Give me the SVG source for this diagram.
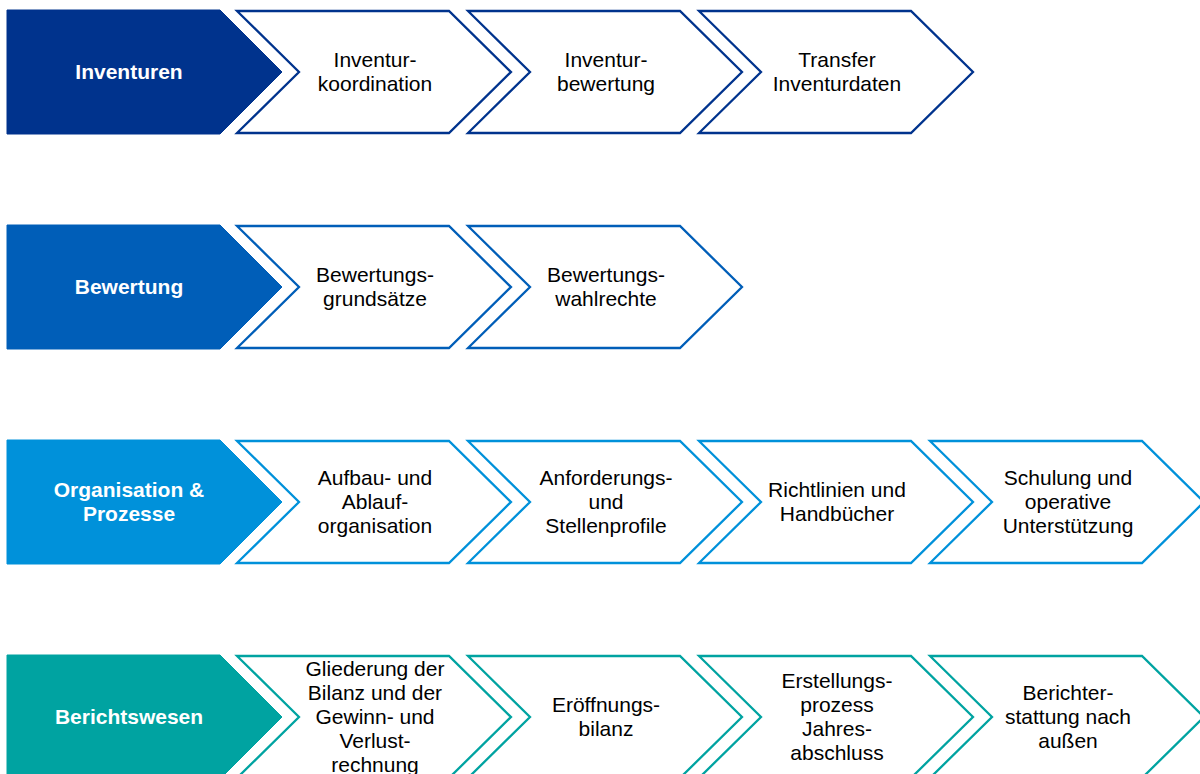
<svg xmlns="http://www.w3.org/2000/svg" xmlns:xlink="http://www.w3.org/1999/xlink" width="1200" height="774" viewBox="0 0 1200 774">
<style>
.lab{font-family:"Liberation Sans",Arial,sans-serif;font-size:21px;font-weight:bold;fill:#ffffff;text-anchor:middle}
.txt{font-family:"Liberation Sans",Arial,sans-serif;font-size:21px;fill:#000000;text-anchor:middle}
.out{fill:#ffffff;stroke-width:2.3;stroke-linejoin:miter}
.r1{fill:#00338D;stroke:#00338D}
.r2{fill:#005EB8;stroke:#005EB8}
.r3{fill:#0091DA;stroke:#0091DA}
.r4{fill:#00A3A1;stroke:#00A3A1}
.o1{stroke:#00338D}.o2{stroke:#005EB8}.o3{stroke:#0091DA}.o4{stroke:#00A3A1}
</style>
<defs>
<path id="head" d="M7,0 L220,0 L282,62 L220,124 L7,124 Z"/>
<path id="chev" d="M237,1 L449,1 L511,62 L449,123 L237,123 L299,62 Z"/>
</defs>
<rect width="1200" height="774" fill="#ffffff"/>
<g id="connectors"/>

<!-- Row 1 -->
<g id="inventuren"><use xlink:href="#head" href="#head" class="r1" y="10" stroke="none"/><text class="lab" x="129" y="79">Inventuren</text></g>
<g id="inventurkoordination"><use href="#chev" xlink:href="#chev" class="out o1" y="10"/><text class="txt"><tspan x="375" y="67">Inventur-</tspan><tspan x="375" y="91">koordination</tspan></text></g>
<g id="inventurbewertung"><use href="#chev" xlink:href="#chev" class="out o1" x="231" y="10"/><text class="txt"><tspan x="606" y="67">Inventur-</tspan><tspan x="606" y="91">bewertung</tspan></text></g>
<g id="transfer"><use href="#chev" xlink:href="#chev" class="out o1" x="462" y="10"/><text class="txt"><tspan x="837" y="67">Transfer</tspan><tspan x="837" y="91">Inventurdaten</tspan></text></g>

<!-- Row 2 -->
<g id="bewertung"><use xlink:href="#head" href="#head" class="r2" y="225" stroke="none"/><text class="lab" x="129" y="294">Bewertung</text></g>
<g id="grundsaetze"><use href="#chev" xlink:href="#chev" class="out o2" y="225"/><text class="txt"><tspan x="375" y="282">Bewertungs-</tspan><tspan x="375" y="306">grundsätze</tspan></text></g>
<g id="wahlrechte"><use href="#chev" xlink:href="#chev" class="out o2" x="231" y="225"/><text class="txt"><tspan x="606" y="282">Bewertungs-</tspan><tspan x="606" y="306">wahlrechte</tspan></text></g>

<!-- Row 3 -->
<g id="organisation"><use xlink:href="#head" href="#head" class="r3" y="440" stroke="none"/><text class="lab"><tspan x="129" y="497">Organisation &amp;</tspan><tspan x="129" y="521">Prozesse</tspan></text></g>
<g id="aufbau"><use href="#chev" xlink:href="#chev" class="out o3" y="440"/><text class="txt"><tspan x="375" y="485">Aufbau- und</tspan><tspan x="375" y="509">Ablauf-</tspan><tspan x="375" y="533">organisation</tspan></text></g>
<g id="anforderungen"><use href="#chev" xlink:href="#chev" class="out o3" x="231" y="440"/><text class="txt"><tspan x="606" y="485">Anforderungs-</tspan><tspan x="606" y="509">und</tspan><tspan x="606" y="533">Stellenprofile</tspan></text></g>
<g id="richtlinien"><use href="#chev" xlink:href="#chev" class="out o3" x="462" y="440"/><text class="txt"><tspan x="837" y="497">Richtlinien und</tspan><tspan x="837" y="521">Handbücher</tspan></text></g>
<g id="schulung"><use href="#chev" xlink:href="#chev" class="out o3" x="693" y="440"/><text class="txt"><tspan x="1068" y="485">Schulung und</tspan><tspan x="1068" y="509">operative</tspan><tspan x="1068" y="533">Unterstützung</tspan></text></g>

<!-- Row 4 -->
<g id="berichtswesen"><use xlink:href="#head" href="#head" class="r4" y="655" stroke="none"/><text class="lab" x="129" y="724">Berichtswesen</text></g>
<g id="gliederung"><use href="#chev" xlink:href="#chev" class="out o4" y="655"/><text class="txt"><tspan x="375" y="676">Gliederung der</tspan><tspan x="375" y="700">Bilanz und der</tspan><tspan x="375" y="724">Gewinn- und</tspan><tspan x="375" y="748">Verlust-</tspan><tspan x="375" y="772">rechnung</tspan></text></g>
<g id="eroeffnungsbilanz"><use href="#chev" xlink:href="#chev" class="out o4" x="231" y="655"/><text class="txt"><tspan x="606" y="712">Eröffnungs-</tspan><tspan x="606" y="736">bilanz</tspan></text></g>
<g id="erstellungsprozess"><use href="#chev" xlink:href="#chev" class="out o4" x="462" y="655"/><text class="txt"><tspan x="837" y="688">Erstellungs-</tspan><tspan x="837" y="712">prozess</tspan><tspan x="837" y="736">Jahres-</tspan><tspan x="837" y="760">abschluss</tspan></text></g>
<g id="berichterstattung"><use href="#chev" xlink:href="#chev" class="out o4" x="693" y="655"/><text class="txt"><tspan x="1068" y="700">Berichter-</tspan><tspan x="1068" y="724">stattung nach</tspan><tspan x="1068" y="748">außen</tspan></text></g>
</svg>
